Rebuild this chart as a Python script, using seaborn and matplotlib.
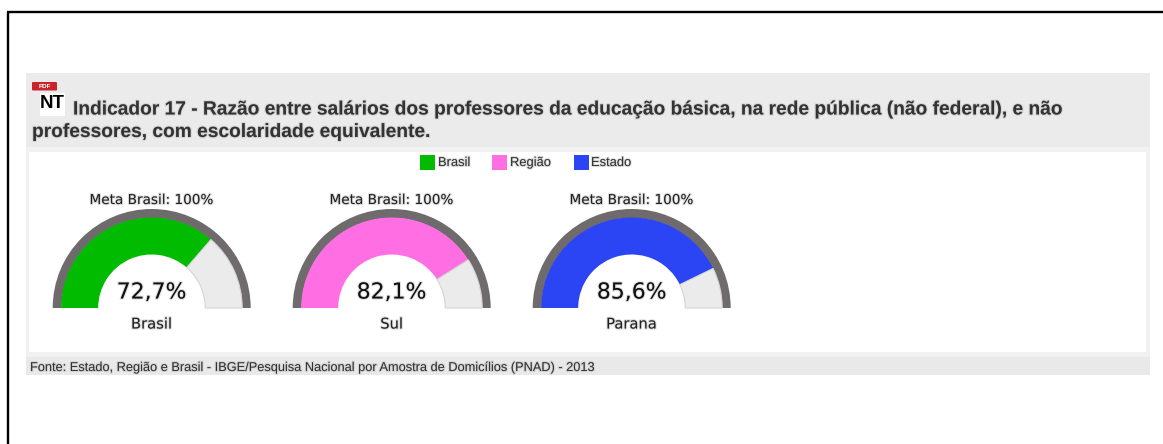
import matplotlib
matplotlib.use("Agg")
import matplotlib.pyplot as plt
import matplotlib.patheffects as pe
from matplotlib.patches import Rectangle, FancyBboxPatch
import seaborn as sns

W, H = 1163, 444

# data
regions = ["Brasil", "Sul", "Parana"]
values = [72.7, 82.1, 85.6]
value_labels = ["72,7%", "82,1%", "85,6%"]
legend_names = ["Brasil", "Região", "Estado"]
colors = ["#00bb00", "#ff6fe3", "#2b45f5"]
meta_label = "Meta Brasil: 100%"
title_lines = ["Indicador 17 - Razão entre salários dos professores da educação básica, na rede pública (não federal), e não",
               "professores, com escolaridade equivalente."]
fonte = "Fonte: Estado, Região e Brasil - IBGE/Pesquisa Nacional por Amostra de Domicílios (PNAD) - 2013"

sns.set_theme(style="white")
plt.rcParams["font.family"] = ["DejaVu Sans"]

fig = plt.figure(figsize=(W / 100, H / 100), dpi=100, facecolor="white")

# background axes in pixel coords, y going down
bg = fig.add_axes([0, 0, 1, 1])
bg.set_xlim(0, W)
bg.set_ylim(H, 0)
bg.axis("off")

soft = [pe.withStroke(linewidth=1.6, foreground="#c4c4c4", alpha=0.55)]

bg.add_patch(Rectangle((26, 73), 1124, 74, color="#ebebeb", lw=0))
bg.add_patch(Rectangle((26, 147), 1124, 210, color="#f1f1f1", lw=0))
bg.add_patch(Rectangle((29, 152), 1117, 200, color="white", lw=0))
bg.add_patch(Rectangle((26, 357), 1124, 18, color="#e9e9e9", lw=0))

# page frame, open on the right
bg.plot([7.5, 7.5], [444, 12.5], color="black", lw=1.7, solid_capstyle="butt")
bg.plot([6.5, W], [12.5, 12.5], color="black", lw=1.7, solid_capstyle="butt")

# pdf icon
bg.add_patch(Rectangle((40, 93), 25, 23, color="white", lw=0))
bg.add_patch(FancyBboxPatch((33, 83), 23, 6.5, boxstyle="round,pad=1", color="#c9242b", lw=0))
bg.text(44.5, 86.5, "PDF", fontsize=4.5, color="white", ha="center", va="center",
        family="Liberation Sans", weight="bold")
bg.text(52, 103.5, "NT", fontsize=13.5, color="black", ha="center", va="center",
        family="Liberation Sans", weight="bold")

for txt, x, y in zip(title_lines, [73, 32], [110, 132.5]):
    bg.text(x, y, txt, fontsize=13.8, color="#333333", weight="bold", ha="left", va="center",
            family="Liberation Sans", path_effects=soft)

bg.text(30, 368, fonte, fontsize=9.2, color="#333333", ha="left", va="center",
        family="Liberation Sans", path_effects=soft)

# legend
for name, col, sx, tx in zip(legend_names, colors, [420, 492, 574], [438, 510, 591]):
    bg.add_patch(Rectangle((sx, 155), 15, 15, color=col, lw=0))
    bg.text(tx, 163, name, fontsize=9.3, color="#333333", ha="left", va="center",
            family="Liberation Sans", path_effects=soft)

# gauges
centers = [151.7, 391.7, 631.7]
base_y = 308
R = 99
for val, lab, reg, col, cx in zip(values, value_labels, regions, colors, centers):
    ax = fig.add_axes([(cx - R) / W, 1 - (base_y + R) / H, 2 * R / W, 2 * R / H])
    # outer ring
    ax.pie([100, 100], colors=["#6f6b6c", "none"], startangle=0, counterclock=True,
           radius=1, wedgeprops=dict(width=9 / R, lw=0))
    # value and remainder, lower half stays empty
    wedges, _ = ax.pie([val, 100 - val, 100], colors=[col, "#ebebeb", "none"], startangle=180,
                       counterclock=False, radius=90.5 / R, wedgeprops=dict(width=37 / R, lw=0))
    wedges[1].set_edgecolor("#d4d4d4")
    wedges[1].set_linewidth(0.8)
    ax.set_xlim(-1, 1)
    ax.set_ylim(-1, 1)
    ax.patch.set_alpha(0)

    bg.text(cx, 200, meta_label, fontsize=9.8, color="#222222", ha="center", va="center",
            path_effects=soft)
    bg.text(cx, 292.5, lab, fontsize=15.8, color="#111111", ha="center", va="center",
            path_effects=soft)
    bg.text(cx, 324, reg, fontsize=10.6, color="#222222", ha="center", va="center",
            path_effects=soft)

fig.savefig("out.png", dpi=100)
plt.close(fig)
